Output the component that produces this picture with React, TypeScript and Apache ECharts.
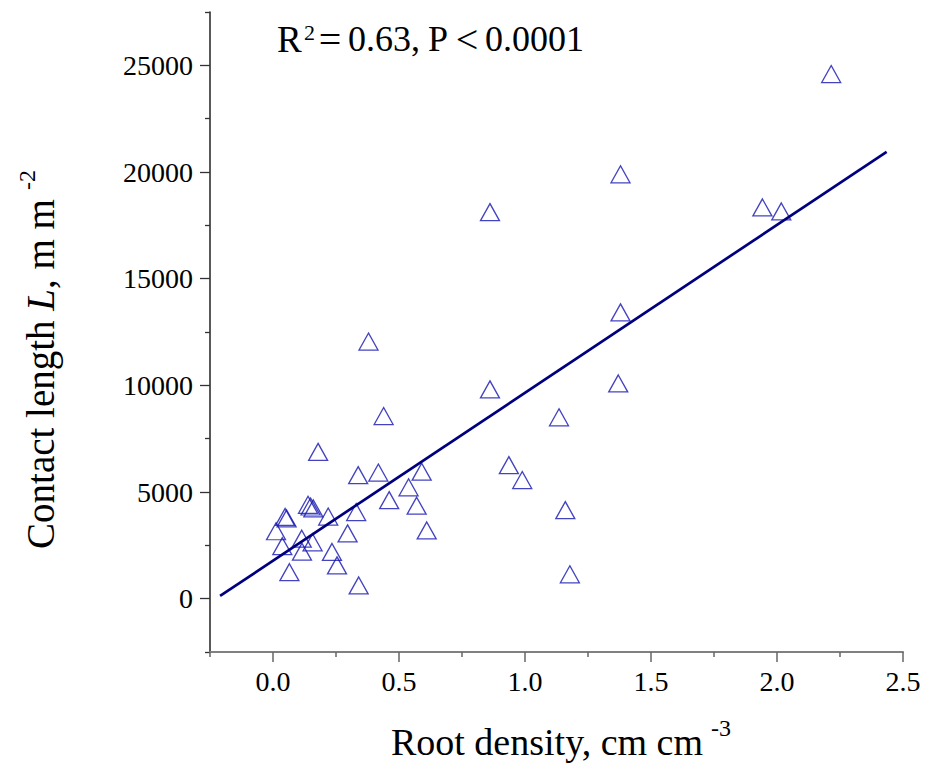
import React, { useEffect, useRef } from "react";
import * as echarts from "echarts";

// Root density (cm cm^-3) and contact length L (m m^-2)
const rootDensity = [
  2.215, 1.379, 1.942, 2.017, 0.861, 1.379, 0.379, 0.861, 1.37, 0.439,
  1.135, 0.179, 0.338, 0.418, 0.59, 0.936, 0.989, 0.538, 0.461, 0.57,
  0.33, 1.16, 0.61, 0.296, 0.234, 0.254, 0.34, 1.178, 0.139, 0.149,
  0.16, 0.048, 0.054, 0.012, 0.219, 0.114, 0.157, 0.037, 0.115, 0.065,
];
const contactLength = [
  24590, 19890, 18340, 18150, 18120, 13420, 12050, 9810, 10090, 8560,
  8500, 6880, 5790, 5910, 5950, 6260, 5560, 5220, 4620, 4360,
  4060, 4150, 3200, 3060, 2190, 1560, 620, 1140, 4400, 4320,
  4230, 3830, 3760, 3160, 3850, 2810, 2640, 2460, 2200, 1240,
];

// Linear fit (as drawn in the figure)
const fitIntercept = 1780;
const fitSlope = 7870;
const fitRange = [-0.21, 2.435];

// Axis ticks
const xMajorTicks = [0, 0.5, 1.0, 1.5, 2.0, 2.5];
const xMinorTicks = [-0.25, 0.25, 0.75, 1.25, 1.75, 2.25];
const yMajorTicks = [0, 5000, 10000, 15000, 20000, 25000];
const yMinorTicks = [-2500, 2500, 7500, 12500, 17500, 22500, 27500];

const SERIF = "'Liberation Serif', 'Times New Roman', serif";

export default function App() {
  const ref = useRef<HTMLDivElement>(null);
  useEffect(() => {
    if (!ref.current) return;
    const chart = echarts.init(ref.current, undefined, { renderer: "svg" });
    const scatterData = rootDensity.map((x, i) => [x, contactLength[i]]);
    const fitData = fitRange.map((x) => [x, fitIntercept + fitSlope * x]);
    const xAxisBase = {
      type: "value",
      min: -0.25,
      max: 2.5,
      position: "bottom",
      splitLine: { show: false },
    };
    const yAxisBase = {
      type: "value",
      min: -2500,
      max: 27500,
      position: "left",
      splitLine: { show: false },
    };
    const txt = (text: string, x: number, y: number, size: number, align = "left", extra: any = {}) => ({
      type: "text",
      x,
      y,
      silent: true,
      style: {
        text,
        fontFamily: SERIF,
        fontSize: size,
        fill: "#000",
        textAlign: align,
        textVerticalAlign: "middle",
        ...extra,
      },
    });
    chart.setOption({
      animation: false,
      backgroundColor: "#fff",
      grid: { left: 210, right: 27, top: 12, bottom: 112, containLabel: false },
      xAxis: [
        {
          ...xAxisBase,
          axisLine: { show: true, onZero: false, lineStyle: { color: "#808080", width: 2 } },
          axisTick: {
            show: true,
            length: 10,
            customValues: xMajorTicks,
            lineStyle: { color: "#666", width: 1.5 },
          },
          axisLabel: {
            customValues: xMajorTicks,
            formatter: (v: number) => v.toFixed(1),
            fontFamily: SERIF,
            fontSize: 28,
            color: "#000",
            margin: 15,
          },
        },
        {
          ...xAxisBase,
          axisLine: { show: false, onZero: false },
          axisTick: {
            show: true,
            length: 5,
            customValues: xMinorTicks,
            lineStyle: { color: "#666", width: 1.5 },
          },
          axisLabel: { show: false },
        },
      ],
      yAxis: [
        {
          ...yAxisBase,
          axisLine: { show: true, onZero: false, lineStyle: { color: "#222", width: 1.5 } },
          axisTick: {
            show: true,
            length: 10,
            customValues: yMajorTicks,
            lineStyle: { color: "#333", width: 1.3 },
          },
          axisLabel: {
            customValues: yMajorTicks,
            formatter: (v: number) => String(Math.round(v)),
            fontFamily: SERIF,
            fontSize: 28,
            color: "#000",
            margin: 17,
          },
        },
        {
          ...yAxisBase,
          axisLine: { show: false, onZero: false },
          axisTick: {
            show: true,
            length: 5,
            customValues: yMinorTicks,
            lineStyle: { color: "#333", width: 1.3 },
          },
          axisLabel: { show: false },
        },
      ],
      series: [
        {
          type: "scatter",
          data: scatterData,
          symbol: "triangle",
          symbolSize: [19, 17],
          itemStyle: { color: "rgba(0,0,0,0)", borderColor: "#1414b0", borderWidth: 1.3 },
          silent: true,
          z: 2,
        },
        {
          type: "line",
          data: fitData,
          symbol: "none",
          lineStyle: { color: "#00007f", width: 2.7 },
          silent: true,
          z: 3,
        },
      ],
      graphic: [
        // R^2 annotation
        txt("R", 277, 39, 37),
        txt("2", 304, 32, 22),
        txt("=", 330, 39, 40, "center"),
        txt("0.63,", 348, 39, 36),
        txt("P", 428, 39, 36),
        txt("<", 467, 39, 40, "center"),
        txt("0.0001", 485, 39, 36),
        // x axis name
        {
          type: "text",
          x: 547,
          y: 742,
          silent: true,
          style: {
            text: "Root density, cm cm",
            fontFamily: SERIF,
            fontSize: 38,
            fill: "#000",
            textAlign: "center",
            textVerticalAlign: "middle",
          },
        },
        txt("-3", 711, 728, 24),
        // y axis name (rotated)
        {
          type: "text",
          x: 40,
          y: 374,
          rotation: Math.PI / 2,
          silent: true,
          style: {
            text: "{a|Contact length }{i|L}{a|, m m}",
            fontFamily: SERIF,
            fontSize: 39,
            fill: "#000",
            textAlign: "center",
            textVerticalAlign: "middle",
            rich: {
              a: { fontFamily: SERIF, fontSize: 39, fill: "#000" },
              i: { fontFamily: SERIF, fontSize: 39, fontStyle: "italic", fill: "#000" },
            },
          },
        },
        {
          type: "text",
          x: 27,
          y: 190,
          rotation: Math.PI / 2,
          silent: true,
          style: {
            text: "-2",
            fontFamily: SERIF,
            fontSize: 24,
            fill: "#000",
            textAlign: "left",
            textVerticalAlign: "middle",
          },
        },
      ],
    });
    return () => chart.dispose();
  }, []);
  return (
    <div
      ref={ref}
      style={{ position: "fixed", left: 0, top: 0, width: 930, height: 764, background: "#fff" }}
    />
  );
}
